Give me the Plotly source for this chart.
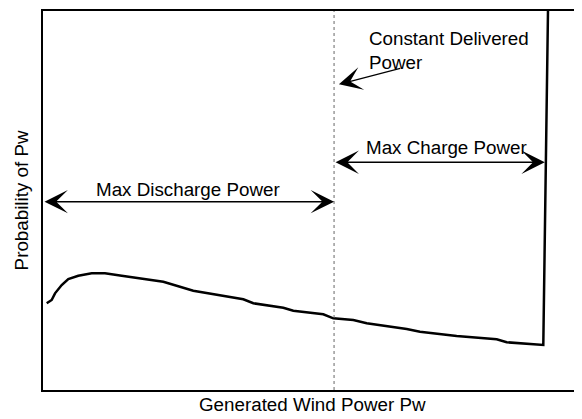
import plotly.graph_objects as go

# Generated wind power (normalized units, 0-100) and probability (normalized units, 0-100)
power = [0.69, 1.61, 2.23, 3.47, 4.69, 6.55, 9.04, 11.50, 14.60, 18.31, 22.32, 27.88,
         31.60, 37.16, 39.02, 44.58, 46.44, 52.00, 53.86, 57.57, 60.06, 67.48, 69.94,
         76.75, 84.17, 86.03, 92.82, 93.69]
probability = [22.88, 23.75, 25.51, 27.70, 29.29, 30.16, 30.79, 30.79, 30.16, 29.47,
               28.57, 26.20, 25.25, 23.93, 22.88, 21.72, 20.93, 19.97, 18.92, 18.47,
               17.60, 16.09, 15.38, 14.25, 13.38, 12.59, 11.87, 100.0]

constant_delivered = 54.0   # delivered power level (vertical dotted line)
max_power = 93.1            # upper bound of charge range
discharge_arrow_y = 49.7
charge_arrow_y = 60.1

FONT = "Liberation Sans, Arial, sans-serif"
FS = 18.8
AS = 2.6

fig = go.Figure()
fig.add_trace(go.Scatter(x=power, y=probability, mode="lines",
                         line=dict(color="black", width=2.5), showlegend=False,
                         cliponaxis=True))

fig.add_shape(type="line", xref="x", yref="paper", x0=constant_delivered, x1=constant_delivered,
              y0=0, y1=1, line=dict(color="#666666", width=1, dash="dot"))

annotations = [
    # Max Discharge Power double arrow
    dict(x=constant_delivered, y=discharge_arrow_y, ax=0, ay=discharge_arrow_y,
         xref="x", yref="y", axref="x", ayref="y", text="", showarrow=True,
         arrowhead=3, startarrowhead=3, arrowside="end+start", arrowsize=AS,
         startarrowsize=AS, arrowwidth=1.5, arrowcolor="black"),
    dict(x=26.9, y=52.8, xref="x", yref="y", text="Max Discharge Power", showarrow=False,
         font=dict(family=FONT, size=FS, color="black")),
    # Max Charge Power double arrow
    dict(x=max_power, y=charge_arrow_y, ax=constant_delivered, ay=charge_arrow_y,
         xref="x", yref="y", axref="x", ayref="y", text="", showarrow=True,
         arrowhead=3, startarrowhead=3, arrowside="end+start", arrowsize=AS,
         startarrowsize=AS, arrowwidth=1.5, arrowcolor="black"),
    dict(x=74.8, y=63.9, xref="x", yref="y", text="Max Charge Power", showarrow=False,
         font=dict(family=FONT, size=FS, color="black")),
    # Constant Delivered Power label + arrow
    dict(x=54.9, y=80.66, ax=66.55, ay=84.96, xref="x", yref="y", axref="x", ayref="y",
         text="", showarrow=True, arrowhead=3, arrowsize=3.2, arrowwidth=1.2,
         arrowcolor="black"),
    dict(x=60.1, y=89.6, xref="x", yref="y", text="Constant Delivered<br>Power",
         showarrow=False, xanchor="left", align="left",
         font=dict(family=FONT, size=FS, color="black")),
    # Axis titles
    dict(x=0.5, y=-0.005, xref="paper", yref="paper", text="Generated Wind Power Pw",
         showarrow=False, yanchor="top", font=dict(family=FONT, size=FS, color="black")),
    dict(x=-0.016, y=0.5, xref="paper", yref="paper", text="Probability of Pw",
         showarrow=False, textangle=-90, xanchor="right",
         font=dict(family=FONT, size=FS, color="black")),
]

fig.update_layout(
    width=582, height=419,
    margin=dict(l=35, r=8, t=3, b=37, autoexpand=False),
    paper_bgcolor="white", plot_bgcolor="white",
    annotations=annotations,
    xaxis=dict(range=[0, 100], showgrid=False, zeroline=False, showticklabels=False,
               ticks="", showline=True, mirror=True, linecolor="black", linewidth=2),
    yaxis=dict(range=[0, 100], showgrid=False, zeroline=False, showticklabels=False,
               ticks="", showline=True, linecolor="black", linewidth=2),
)

fig.write_html("out.html")
